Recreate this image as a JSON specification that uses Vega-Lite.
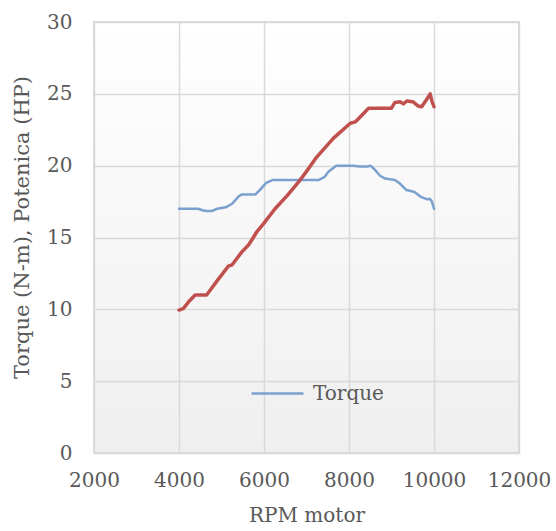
{
  "$schema": "https://vega.github.io/schema/vega-lite/v6.json",
  "width": 425,
  "height": 431,
  "autosize": {"type": "none"},
  "padding": {"left": 94, "top": 22, "right": 37, "bottom": 78},
  "background": "#ffffff",
  "config": {
    "font": "DejaVu Serif",
    "view": {
      "stroke": "#d0d0d0",
      "strokeWidth": 1.5,
      "fill": {"gradient": "linear", "x1": 0, "y1": 0, "x2": 0, "y2": 1, "stops": [{"offset": 0, "color": "#ffffff"}, {"offset": 1, "color": "#efefef"}]}
    },
    "axis": {
      "labelFont": "DejaVu Serif",
      "titleFont": "DejaVu Serif",
      "labelFontSize": 20,
      "titleFontSize": 20,
      "labelColor": "#595959",
      "titleColor": "#595959",
      "titleFontWeight": "normal",
      "gridColor": "#d9d9d9",
      "gridWidth": 1.5,
      "domain": false,
      "ticks": false
    }
  },
  "data": {
    "values": [
      {"rpm": 4000, "value": 17.0, "series": "Torque"},
      {"rpm": 4200, "value": 17.0, "series": "Torque"},
      {"rpm": 4450, "value": 17.0, "series": "Torque"},
      {"rpm": 4550, "value": 16.9, "series": "Torque"},
      {"rpm": 4650, "value": 16.85, "series": "Torque"},
      {"rpm": 4780, "value": 16.85, "series": "Torque"},
      {"rpm": 4900, "value": 17.0, "series": "Torque"},
      {"rpm": 5100, "value": 17.1, "series": "Torque"},
      {"rpm": 5250, "value": 17.35, "series": "Torque"},
      {"rpm": 5400, "value": 17.85, "series": "Torque"},
      {"rpm": 5480, "value": 18.0, "series": "Torque"},
      {"rpm": 5800, "value": 18.0, "series": "Torque"},
      {"rpm": 5900, "value": 18.3, "series": "Torque"},
      {"rpm": 6050, "value": 18.8, "series": "Torque"},
      {"rpm": 6200, "value": 19.0, "series": "Torque"},
      {"rpm": 7280, "value": 19.0, "series": "Torque"},
      {"rpm": 7420, "value": 19.2, "series": "Torque"},
      {"rpm": 7520, "value": 19.6, "series": "Torque"},
      {"rpm": 7700, "value": 20.0, "series": "Torque"},
      {"rpm": 8100, "value": 20.0, "series": "Torque"},
      {"rpm": 8250, "value": 19.95, "series": "Torque"},
      {"rpm": 8450, "value": 19.95, "series": "Torque"},
      {"rpm": 8500, "value": 20.0, "series": "Torque"},
      {"rpm": 8600, "value": 19.75, "series": "Torque"},
      {"rpm": 8730, "value": 19.3, "series": "Torque"},
      {"rpm": 8850, "value": 19.1, "series": "Torque"},
      {"rpm": 9080, "value": 19.0, "series": "Torque"},
      {"rpm": 9200, "value": 18.75, "series": "Torque"},
      {"rpm": 9350, "value": 18.3, "series": "Torque"},
      {"rpm": 9500, "value": 18.2, "series": "Torque"},
      {"rpm": 9550, "value": 18.15, "series": "Torque"},
      {"rpm": 9680, "value": 17.85, "series": "Torque"},
      {"rpm": 9800, "value": 17.7, "series": "Torque"},
      {"rpm": 9850, "value": 17.65, "series": "Torque"},
      {"rpm": 9900, "value": 17.7, "series": "Torque"},
      {"rpm": 9950, "value": 17.5, "series": "Torque"},
      {"rpm": 10000, "value": 17.0, "series": "Torque"},
      {"rpm": 4000, "value": 9.95, "series": "Potencia"},
      {"rpm": 4100, "value": 10.05, "series": "Potencia"},
      {"rpm": 4250, "value": 10.6, "series": "Potencia"},
      {"rpm": 4380, "value": 11.0, "series": "Potencia"},
      {"rpm": 4650, "value": 11.0, "series": "Potencia"},
      {"rpm": 4900, "value": 12.0, "series": "Potencia"},
      {"rpm": 5160, "value": 13.0, "series": "Potencia"},
      {"rpm": 5250, "value": 13.1, "series": "Potencia"},
      {"rpm": 5480, "value": 14.0, "series": "Potencia"},
      {"rpm": 5640, "value": 14.5, "series": "Potencia"},
      {"rpm": 5750, "value": 15.0, "series": "Potencia"},
      {"rpm": 5830, "value": 15.4, "series": "Potencia"},
      {"rpm": 6000, "value": 16.0, "series": "Potencia"},
      {"rpm": 6260, "value": 17.0, "series": "Potencia"},
      {"rpm": 6540, "value": 17.9, "series": "Potencia"},
      {"rpm": 6850, "value": 19.0, "series": "Potencia"},
      {"rpm": 7000, "value": 19.6, "series": "Potencia"},
      {"rpm": 7240, "value": 20.6, "series": "Potencia"},
      {"rpm": 7630, "value": 21.9, "series": "Potencia"},
      {"rpm": 8030, "value": 22.95, "series": "Potencia"},
      {"rpm": 8150, "value": 23.05, "series": "Potencia"},
      {"rpm": 8200, "value": 23.2, "series": "Potencia"},
      {"rpm": 8460, "value": 24.0, "series": "Potencia"},
      {"rpm": 9000, "value": 24.0, "series": "Potencia"},
      {"rpm": 9080, "value": 24.4, "series": "Potencia"},
      {"rpm": 9200, "value": 24.45, "series": "Potencia"},
      {"rpm": 9280, "value": 24.3, "series": "Potencia"},
      {"rpm": 9360, "value": 24.5, "series": "Potencia"},
      {"rpm": 9500, "value": 24.45, "series": "Potencia"},
      {"rpm": 9630, "value": 24.15, "series": "Potencia"},
      {"rpm": 9710, "value": 24.1, "series": "Potencia"},
      {"rpm": 9790, "value": 24.45, "series": "Potencia"},
      {"rpm": 9870, "value": 24.8, "series": "Potencia"},
      {"rpm": 9910, "value": 25.0, "series": "Potencia"},
      {"rpm": 9950, "value": 24.5, "series": "Potencia"},
      {"rpm": 10000, "value": 24.1, "series": "Potencia"}
    ]
  },
  "mark": {"type": "line", "strokeJoin": "round", "strokeCap": "round"},
  "encoding": {
    "x": {
      "field": "rpm", "type": "quantitative",
      "scale": {"domain": [2000, 12000], "nice": false},
      "axis": {"title": "RPM motor", "format": "d", "values": [2000, 4000, 6000, 8000, 10000, 12000], "labelPadding": 17, "titlePadding": 15, "labelFlush": false}
    },
    "y": {
      "field": "value", "type": "quantitative",
      "scale": {"domain": [0, 30], "nice": false},
      "axis": {"title": "Torque (N-m), Potenica (HP)", "titleFontSize": 21, "titleY": 205, "values": [0, 5, 10, 15, 20, 25, 30], "labelPadding": 22, "titlePadding": 14, "labelFlush": false}
    },
    "color": {
      "field": "series", "type": "nominal",
      "scale": {"domain": ["Torque", "Potencia"], "range": ["#7ba0cd", "#c0504d"]},
      "legend": {
        "values": ["Torque"], "title": null, "orient": "none", "legendX": 156, "legendY": 344,
        "symbolType": "stroke", "symbolSize": 2700, "symbolStrokeWidth": 2.5,
        "labelFont": "DejaVu Serif", "labelFontSize": 20, "labelColor": "#595959", "labelOffset": 8
      }
    },
    "strokeWidth": {
      "field": "series", "type": "nominal",
      "scale": {"domain": ["Torque", "Potencia"], "range": [2.5, 3.5]},
      "legend": null
    }
  }
}
